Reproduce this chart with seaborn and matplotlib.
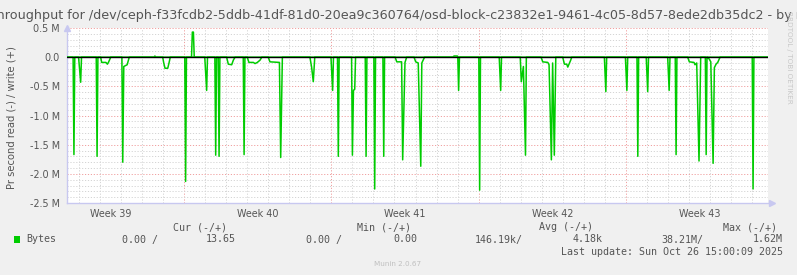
import matplotlib
matplotlib.use("Agg")
import matplotlib.pyplot as plt
import seaborn as sns
import pandas as pd
from matplotlib.patches import Rectangle

# ---------------- data (days from left edge of graph, values in MB/s) ----------------
read_day = [0.00, 0.29, 0.33, 0.37, 0.55, 0.65, 0.69, 1.39, 1.43, 1.47,
            1.60, 1.65, 1.85, 1.92, 1.97, 2.08, 2.61, 2.65, 2.70, 2.86, 2.96,
            4.55, 4.60, 4.66, 4.79, 4.85, 4.91, 5.60, 5.64, 5.68,
            6.55, 6.64, 6.68, 7.03, 7.07, 7.11, 7.19, 7.23, 7.27,
            7.59, 7.67, 7.83, 7.91, 7.99, 8.38, 8.42, 8.46,
            8.57, 8.65, 8.86, 8.94, 9.05, 9.18, 9.26,
            9.57, 9.65, 10.10, 10.16, 10.24, 11.55, 11.63, 11.71, 11.78,
            12.55, 12.63, 12.67, 12.86, 12.90, 12.94,
            13.53, 13.57, 13.62, 13.68, 13.72, 14.18, 14.22, 14.26,
            14.59, 14.63, 14.67, 15.02, 15.06, 15.10,
            15.60, 15.68, 15.91, 15.96, 16.07, 16.15,
            16.50, 16.58, 16.70, 16.82, 16.87, 17.00,
            18.58, 18.62, 18.66, 19.58, 19.62, 19.66, 20.55, 20.62, 20.66,
            21.55, 21.60, 21.70, 21.80, 21.84,
            22.54, 22.62, 22.86, 22.92, 23.03, 23.09, 23.17, 23.24,
            23.57, 23.65, 23.76, 23.81, 23.87, 23.95, 24.00,
            25.55, 25.62, 25.66, 26.55, 26.62, 26.66, 27.10, 27.14, 27.18,
            27.54, 27.61, 27.65, 28.56, 28.63, 28.67, 28.92, 28.96, 29.00,
            29.51, 29.59, 29.81, 29.86, 29.94, 30.05, 30.13,
            30.35, 30.39, 30.43,
            30.45, 30.53, 30.61, 30.72, 30.78, 30.86, 30.94, 31.05,
            32.58, 32.62, 32.66, 33.33]
read_val = [0.00, 0.00, -1.67, 0.00, 0.00, -0.43, 0.00, 0.00, -1.70, 0.00,
            0.00, -0.09, -0.09, -0.12, -0.09, 0.00, 0.00, -1.80, -0.16, -0.13, 0.00,
            0.00, -0.10, -0.19, -0.19, -0.10, 0.00, 0.00, -2.13, 0.00,
            0.00, -0.57, 0.00, 0.00, -1.68, 0.00, 0.00, -1.70, 0.00,
            0.00, -0.12, -0.13, -0.05, 0.00, 0.00, -1.67, 0.00,
            0.00, -0.09, -0.09, -0.11, -0.09, -0.05, 0.00,
            0.00, -0.08, -0.09, -1.72, 0.00, 0.00, -0.17, -0.42, 0.00,
            0.00, -0.57, 0.00, 0.00, -1.70, 0.00,
            0.00, -1.68, -0.57, -0.55, 0.00, 0.00, -1.70, 0.00,
            0.00, -2.26, 0.00, 0.00, -1.70, 0.00,
            0.00, -0.08, -0.08, -1.76, -0.09, 0.00,
            0.00, -0.08, -0.10, -1.87, -0.10, 0.00,
            0.00, -0.57, 0.00, 0.00, -2.28, 0.00, 0.00, -0.57, 0.00,
            0.00, -0.42, -0.16, -1.68, 0.00,
            0.00, -0.08, -0.09, -0.13, -1.76, -0.10, -1.68, 0.00,
            0.00, -0.12, -0.12, -0.17, -0.12, -0.05, 0.00,
            0.00, -0.59, 0.00, 0.00, -0.57, 0.00, 0.00, -1.70, 0.00,
            0.00, -0.59, 0.00, 0.00, -0.57, 0.00, 0.00, -1.67, 0.00,
            0.00, -0.08, -0.09, -0.13, -0.10, -1.78, 0.00,
            0.00, -1.67, 0.00,
            0.00, -0.03, -0.08, -1.82, -0.18, -0.12, -0.09, 0.00,
            0.00, -2.26, 0.00, 0.00]

write_day = [0.00, 4.15, 4.18, 4.22, 5.92, 5.96, 6.01, 6.05,
             18.35, 18.40, 18.56, 18.60, 33.33]
write_val = [0.00, 0.00, 0.02, 0.00, 0.00, 0.43, 0.43, 0.00,
             0.00, 0.02, 0.02, 0.00, 0.00]

week_labels = ["Week 39", "Week 40", "Week 41", "Week 42", "Week 43"]
week_bounds = [5.57, 12.57, 19.57, 26.57]
y_ticks = [0.5, 0.0, -0.5, -1.0, -1.5, -2.0, -2.5]
y_tick_labels = ["0.5 M", "0.0", "-0.5 M", "-1.0 M", "-1.5 M", "-2.0 M", "-2.5 M"]

title = ("Disk throughput for /dev/ceph-f33fcdb2-5ddb-41df-81d0-20ea9c360764/"
         "osd-block-c23832e1-9461-4c05-8d57-8ede2db35dc2 - by month")
legend_name = "Bytes"
cur_vals = ("0.00 /", "13.65")
min_vals = ("0.00 /", "0.00")
avg_vals = ("146.19k/", "4.18k")
max_vals = ("38.21M/", "1.62M")
last_update = "Last update: Sun Oct 26 15:00:09 2025"

# ---------------- styling ----------------
sns.set_theme(style="white")
plt.rcParams["font.family"] = ["DejaVu Sans"]

W, H = 797, 275
BG = "#F0F0F0"
GREEN = "#00CC00"
TXT = "#555555"

fig = plt.figure(figsize=(W / 100, H / 100), dpi=100, facecolor=BG)
ax = fig.add_axes([67 / W, 1 - 203 / H, 701 / W, 175 / H])
ax.set_facecolor("white")

xmax = 33.33
ax.set_xlim(0, xmax)
ax.set_ylim(-2.5, 0.5)

# grid: minor (gray) per day / 0.1 M, major (red) per week / 0.5 M
grid_style = dict(linestyle=(0, (1.2, 1.8)), linewidth=0.7)
day_lines = [week_bounds[0] - 5 + k for k in range(0, 33) if week_bounds[0] - 5 + k < xmax]
for d in day_lines:
    if min(abs(d - b) for b in week_bounds) > 0.01:
        ax.axvline(d, color="#D4D4D4", zorder=0, **grid_style)
for b in week_bounds:
    ax.axvline(b, color="#F0A0A0", zorder=0, **grid_style)
for i in range(-25, 6):
    yv = i / 10
    if i % 5 == 0:
        ax.axhline(yv, color="#F0A0A0", zorder=0, **grid_style)
    else:
        ax.axhline(yv, color="#D4D4D4", zorder=0, **grid_style)

df_r = pd.DataFrame({"day": read_day, "val": read_val})
df_w = pd.DataFrame({"day": write_day, "val": write_val})
sns.lineplot(data=df_r, x="day", y="val", estimator=None, sort=False,
             color=GREEN, linewidth=1.1, ax=ax, zorder=3)
sns.lineplot(data=df_w, x="day", y="val", estimator=None, sort=False,
             color=GREEN, linewidth=1.1, ax=ax, zorder=3)
ax.axhline(0, color="black", linewidth=1.0, zorder=4)

# ticks
ax.set_yticks(y_ticks)
ax.set_yticklabels(y_tick_labels)
week_mid = [week_bounds[0] - 3.5 + 7 * i for i in range(5)]
ax.set_xticks(week_mid)
ax.set_xticklabels(week_labels)
ax.tick_params(axis="both", length=0, labelsize=6.9, colors=TXT)
ax.tick_params(axis="y", pad=5)
ax.tick_params(axis="x", pad=4)
ax.set_xlabel("")
ax.set_ylabel("")

for s in ["top", "right"]:
    ax.spines[s].set_visible(False)
for s in ["left", "bottom"]:
    ax.spines[s].set_color("#C8C8F0")
    ax.spines[s].set_linewidth(1.0)
ax.plot([0], [1.0], marker="^", color="#C8C8F0", ms=4, transform=ax.transAxes, clip_on=False)
ax.plot([1.005], [0.0], marker=">", color="#C8C8F0", ms=4, transform=ax.transAxes, clip_on=False)

# title & axis label
fig.text(0.5, 1 - 16 / H, title, ha="center", va="center", fontsize=9.15, color=TXT)
fig.text(12 / W, 1 - 118 / H, "Pr second read (-) / write (+)", rotation=90,
         ha="center", va="center", fontsize=7.2, color=TXT)
fig.text(789 / W, 1 - 57 / H, "RRDTOOL / TOBI OETIKER", rotation=270,
         ha="center", va="center", fontsize=5.2, color="#C8C8C8")

# legend block (monospace)
mono = dict(family="DejaVu Sans Mono", fontsize=7.2, color=TXT, va="center")
y_head = 1 - 227.5 / H
y_row = 1 - 239.5 / H
fig.text(227 / W, y_head, "Cur (-/+)", ha="right", **mono)
fig.text(411 / W, y_head, "Min (-/+)", ha="right", **mono)
fig.text(593 / W, y_head, "Avg (-/+)", ha="right", **mono)
fig.text(777 / W, y_head, "Max (-/+)", ha="right", **mono)

fig.patches.append(Rectangle((14 / W, 1 - 243 / H), 6 / W, 7 / H,
                             transform=fig.transFigure, facecolor=GREEN, edgecolor="none"))
fig.text(26 / W, y_row, legend_name, ha="left", **mono)
col_right = [(158, 236), (342, 417), (523, 603), (703, 783)]
for (r1, r2), (a, b) in zip(col_right, [cur_vals, min_vals, avg_vals, max_vals]):
    fig.text(r1 / W, y_row, a, ha="right", **mono)
    fig.text(r2 / W, y_row, b, ha="right", **mono)
fig.text(783 / W, 1 - 252 / H, last_update, ha="right", **mono)
fig.text(398 / W, 1 - 263.5 / H, "Munin 2.0.67", ha="center", va="center",
         fontsize=5.2, color="#C0C0C0")

fig.savefig("out.png", dpi=100, facecolor=BG)
